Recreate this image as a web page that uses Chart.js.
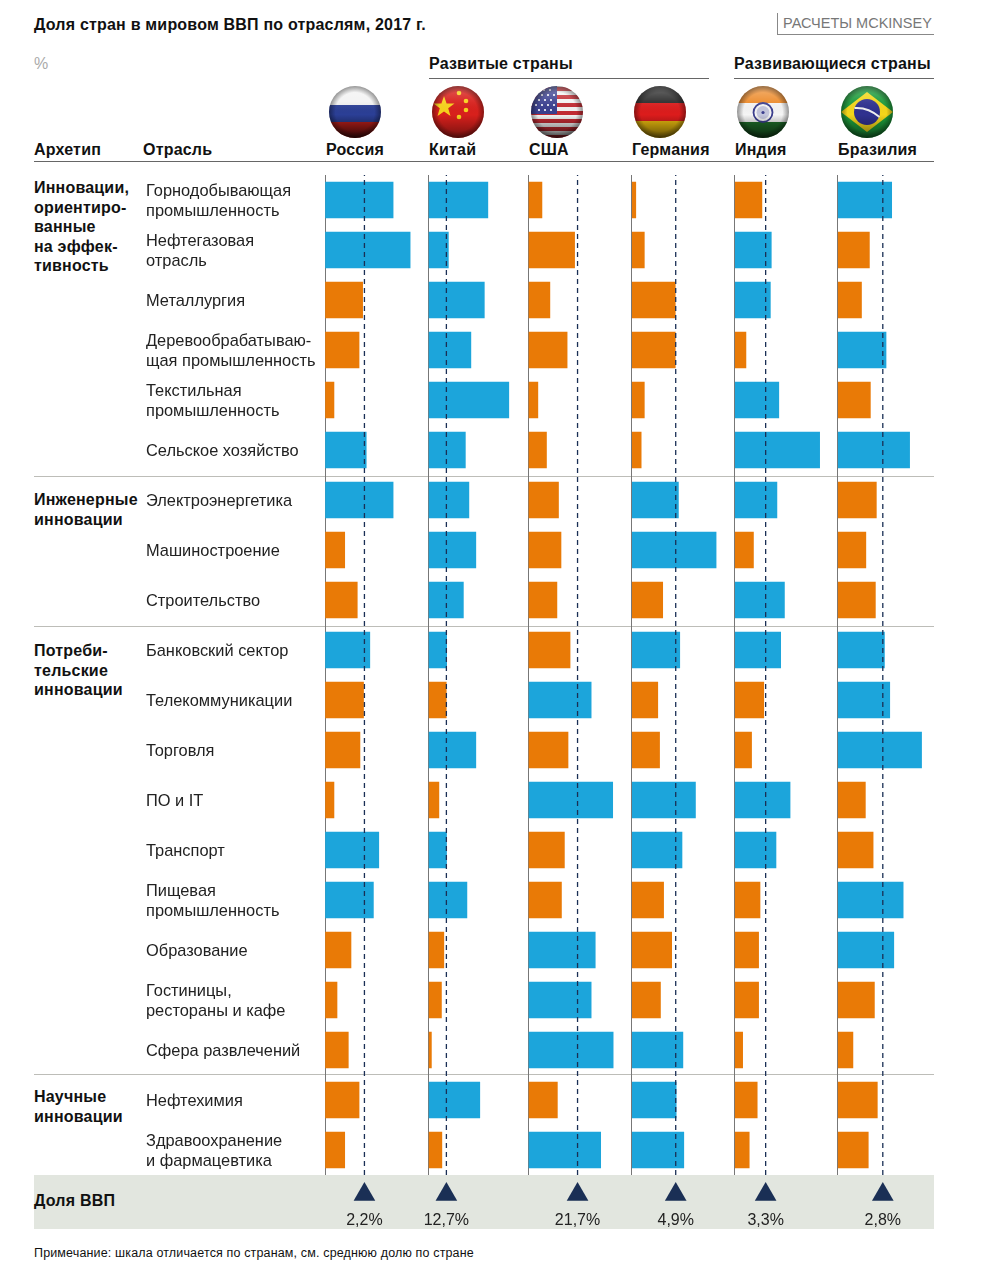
<!DOCTYPE html>
<html lang="ru">
<head>
<meta charset="utf-8">
<title>Доля стран в мировом ВВП по отраслям, 2017 г.</title>
<script src="https://cdn.jsdelivr.net/npm/chart.js@4"></script>
<style>
html,body{margin:0;padding:0;background:#fff}
#page{position:relative;width:988px;height:1271px;overflow:hidden;font-family:"Liberation Sans",Arial,sans-serif;color:#111}
#page canvas{position:absolute;left:0;top:0}
.t{position:absolute;white-space:nowrap}
.b{font-weight:bold;font-size:16px;letter-spacing:.2px;line-height:19.5px}
.rule{position:absolute;height:1px;background:#666}
.sep{position:absolute;left:34px;width:900px;height:1px;background:#bdbdb8}
.flag{position:absolute;top:85px;width:54px;height:54px}
</style>
</head>
<body>
<div id="page">
<div style="position:absolute;left:34px;top:1175px;width:900px;height:54px;background:#e2e6df"></div>
<div class="t b" style="left:34px;top:14.5px">Доля стран в мировом ВВП по отраслям, 2017 г.</div>
<div class="t" style="left:777px;top:13px;width:156px;height:21px;border-left:1px solid #888;border-bottom:1px solid #888;"></div>
<div class="t" style="left:783px;top:14px;font-size:14.5px;line-height:18px;color:#777">РАСЧЕТЫ MCKINSEY</div>
<div class="t" style="left:34px;top:54.5px;font-size:16px;line-height:18px;color:#aaa">%</div>
<div class="t b" style="left:429px;top:53.5px">Развитые страны</div>
<div class="t b" style="left:734px;top:53.5px">Развивающиеся страны</div>
<div class="rule" style="left:429px;top:78px;width:280px"></div>
<div class="rule" style="left:734px;top:78px;width:200px"></div>
<div class="rule" style="left:34px;top:161px;width:900px"></div>
<div class="t b" style="left:34px;top:139.5px">Архетип</div>
<div class="t b" style="left:143px;top:139.5px">Отрасль</div>
<div class="t b" style="left:326px;top:139.5px">Россия</div>
<div class="t b" style="left:429px;top:139.5px">Китай</div>
<div class="t b" style="left:529px;top:139.5px">США</div>
<div class="t b" style="left:632px;top:139.5px">Германия</div>
<div class="t b" style="left:735px;top:139.5px">Индия</div>
<div class="t b" style="left:838px;top:139.5px">Бразилия</div>
<div class="sep" style="top:476px"></div>
<div class="sep" style="top:626px"></div>
<div class="sep" style="top:1074px"></div>
<div class="t b" style="left:34px;top:178px">Инновации,<br>ориентиро-<br>ванные<br>на эффек-<br>тивность</div>
<div class="t b" style="left:34px;top:490px">Инженерные<br>инновации</div>
<div class="t b" style="left:34px;top:641px">Потреби-<br>тельские<br>инновации</div>
<div class="t b" style="left:34px;top:1087px">Научные<br>инновации</div>
<div class="t b" style="left:34px;top:1191px">Доля ВВП</div>
<div class="t" style="left:34px;top:1245px;font-size:12.5px;line-height:16px;letter-spacing:.15px">Примечание: шкала отличается по странам, см. среднюю долю по стране</div>

<svg width="0" height="0" style="position:absolute">
<defs>
<clipPath id="cc"><circle cx="27" cy="27" r="26"/></clipPath>
<linearGradient id="sh" x1="0" y1="0" x2="0" y2="1">
<stop offset="0" stop-color="#fff" stop-opacity=".45"/><stop offset=".3" stop-color="#fff" stop-opacity=".1"/>
<stop offset=".55" stop-color="#000" stop-opacity="0"/><stop offset="1" stop-color="#000" stop-opacity=".8"/>
</linearGradient>
<radialGradient id="vg" cx=".5" cy=".5" r=".5">
<stop offset=".72" stop-color="#000" stop-opacity="0"/><stop offset="1" stop-color="#000" stop-opacity=".45"/>
</radialGradient>
</defs>
</svg>
<svg class="flag" style="left:328px" viewBox="0 0 54 54"><g clip-path="url(#cc)"><rect width="54" height="20" fill="#f2f2f2"/><rect y="20" width="54" height="17" fill="#2b3f96"/><rect y="37" width="54" height="17" fill="#c0201c"/><rect width="54" height="54" fill="url(#sh)"/><rect width="54" height="54" fill="url(#vg)"/></g></svg>
<svg class="flag" style="left:431px" viewBox="0 0 54 54"><g clip-path="url(#cc)"><rect width="54" height="54" fill="#d8201c"/><polygon points="13,11 15.6,18.5 23.5,18.6 17.2,23.3 19.5,31 13,26.4 6.5,31 8.8,23.3 2.5,18.6 10.4,18.5" fill="#f7d21c"/><circle cx="28" cy="8" r="2.3" fill="#f7d21c"/><circle cx="35" cy="16" r="2.3" fill="#f7d21c"/><circle cx="35" cy="25" r="2.3" fill="#f7d21c"/><circle cx="28" cy="32" r="2.3" fill="#f7d21c"/><rect width="54" height="54" fill="url(#sh)" opacity=".6"/><rect width="54" height="54" fill="url(#vg)"/></g></svg>
<svg class="flag" style="left:530px" viewBox="0 0 54 54"><g clip-path="url(#cc)"><rect width="54" height="54" fill="#f3f3f3"/><rect y="2" width="54" height="4" fill="#c22b33"/><rect y="10" width="54" height="4" fill="#c22b33"/><rect y="18" width="54" height="4" fill="#c22b33"/><rect y="26" width="54" height="4" fill="#c22b33"/><rect y="34" width="54" height="4" fill="#c22b33"/><rect y="42" width="54" height="4" fill="#c22b33"/><rect y="50" width="54" height="4" fill="#c22b33"/><rect width="27" height="29" fill="#3a3f8f"/><g fill="#fff"><circle cx="6" cy="10" r="1.1"/><circle cx="12" cy="10" r="1.1"/><circle cx="18" cy="10" r="1.1"/><circle cx="24" cy="10" r="1.1"/><circle cx="9" cy="15" r="1.1"/><circle cx="15" cy="15" r="1.1"/><circle cx="21" cy="15" r="1.1"/><circle cx="6" cy="20" r="1.1"/><circle cx="12" cy="20" r="1.1"/><circle cx="18" cy="20" r="1.1"/><circle cx="24" cy="20" r="1.1"/><circle cx="9" cy="25" r="1.1"/><circle cx="15" cy="25" r="1.1"/><circle cx="21" cy="25" r="1.1"/><circle cx="14" cy="5" r="1.1"/><circle cx="20" cy="5" r="1.1"/></g><rect width="54" height="54" fill="url(#sh)" opacity=".8"/><rect width="54" height="54" fill="url(#vg)"/></g></svg>
<svg class="flag" style="left:633px" viewBox="0 0 54 54"><g clip-path="url(#cc)"><rect width="54" height="18" fill="#2a2a2a"/><rect y="18" width="54" height="18" fill="#dc1c1c"/><rect y="36" width="54" height="18" fill="#e8b90e"/><rect width="54" height="54" fill="url(#sh)" opacity=".75"/><rect width="54" height="54" fill="url(#vg)"/></g></svg>
<svg class="flag" style="left:736px" viewBox="0 0 54 54"><g clip-path="url(#cc)"><rect width="54" height="18" fill="#ec8a2a"/><rect y="18" width="54" height="19" fill="#f5f5f5"/><rect y="37" width="54" height="17" fill="#1f6d2a"/><circle cx="27" cy="27.5" r="9.5" fill="none" stroke="#3c3f8f" stroke-width="1.8"/><circle cx="27" cy="27.5" r="6.5" fill="#c4c6dd"/><circle cx="27" cy="27.5" r="1.6" fill="#3c3f8f"/><rect width="54" height="54" fill="url(#sh)" opacity=".8"/><rect width="54" height="54" fill="url(#vg)"/></g></svg>
<svg class="flag" style="left:840px" viewBox="0 0 54 54"><g clip-path="url(#cc)"><rect width="54" height="54" fill="#1c9a3a"/><polygon points="27,7 53,27 27,47 1,27" fill="#f3d61a"/><circle cx="27" cy="27" r="13" fill="#2f318f"/><path d="M14.5,23 Q28,22 39.5,32" stroke="#f1f1f1" stroke-width="2" fill="none"/><rect width="54" height="54" fill="url(#sh)" opacity=".65"/><rect width="54" height="54" fill="url(#vg)"/></g></svg>

<canvas id="chart" width="988" height="1271"></canvas>
</div>
<script>
const industries = [
  ['Горнодобывающая','промышленность'],['Нефтегазовая','отрасль'],'Металлургия',
  ['Деревообрабатываю-','щая промышленность'],['Текстильная','промышленность'],'Сельское хозяйство',
  'Электроэнергетика','Машиностроение','Строительство',
  'Банковский сектор','Телекоммуникации','Торговля','ПО и IT','Транспорт',
  ['Пищевая','промышленность'],'Образование',['Гостиницы,','рестораны и кафе'],'Сфера развлечений',
  'Нефтехимия',['Здравоохранение','и фармацевтика']
];
const countries = ['Россия','Китай','США','Германия','Индия','Бразилия'];
const gdpShare = [2.2, 12.7, 21.7, 4.9, 3.3, 2.8];
const gdpShareLabels = ['2,2%','12,7%','21,7%','4,9%','3,3%','2,8%'];
const russia  = [3.8,4.75,2.1,1.9,0.5,2.3,3.8,1.1,1.8,2.5,2.15,1.95,0.5,3.0,2.7,1.45,0.67,1.3,1.9,1.1];
const china   = [42,14.1,39.5,30,56.8,26.1,28.6,33.5,24.7,12.9,12.6,33.5,7.4,12.8,27.2,10.9,9.2,2.1,36.3,9.5];
const usa     = [6.0,20.4,9.5,17.1,4.2,8.0,13.3,14.4,12.6,18.4,27.7,17.5,37.2,15.9,14.6,29.5,27.7,37.4,12.8,31.9];
const germany = [0.45,1.4,4.85,4.85,1.4,1.05,5.2,9.4,3.45,5.35,2.9,3.1,7.1,5.6,3.55,4.45,3.2,5.7,4.95,5.8];
const india   = [2.9,3.9,3.8,1.2,4.7,9.05,4.5,2.0,5.3,4.9,3.1,1.8,5.9,4.4,2.7,2.55,2.55,0.85,2.4,1.55];
const brazil  = [3.35,1.97,1.48,3.0,2.03,4.46,2.4,1.75,2.34,2.9,3.23,5.2,1.72,2.2,4.06,3.48,2.28,0.95,2.46,1.9];
const series = [russia, china, usa, germany, india, brazil];
const axisMax = [5.77, 70.6, 45.6, 11.47, 10.96, 5.97];
const columnWeights = [103.5, 100, 103.5, 103, 103, 96.5];

const BLUE = '#1ca5db', ORANGE = '#e97a06', NAVY = '#1a2f55';
const scales = {
  y: {
    type: 'category', labels: industries, position: 'left',
    grid: {display: false}, border: {display: false},
    ticks: {crossAlign: 'far', font: {family: '"Liberation Sans"', size: 16.4, lineHeight: 1.18}, color: '#222', padding: 0, autoSkip: false, labelOffset: 1.5},
    afterFit: s => { s.width = 179; }
  },
  yShare: {type: 'linear', axis: 'y', min: 0, max: 1, offset: false, display: false}
};
const datasets = [];
countries.forEach((name, i) => {
  const id = 'x' + i;
  scales[id] = {
    type: 'linear', axis: 'x', position: 'bottom', stack: 'countries', stackWeight: columnWeights[i],
    min: 0, max: axisMax[i],
    afterBuildTicks: s => { s.ticks = [{value: 0}, {value: gdpShare[i]}]; },
    afterFit: s => { s.height = 60; },
    border: {display: false},
    grid: {drawTicks: false, lineWidth: c => c.tick && c.tick.value === 0 ? 1 : 0, color: '#777'},
    ticks: {
      padding: 35.5, autoSkip: false, maxRotation: 0, color: '#222',
      font: {family: '"Liberation Sans"', size: 16},
      callback: v => v === 0 ? '' : gdpShareLabels[i]
    }
  };
  datasets.push({
    type: 'bar', label: name, data: series[i], xAxisID: id, yAxisID: 'y',
    grouped: false, barThickness: 36, borderWidth: 0, order: 3,
    backgroundColor: c => c.raw > gdpShare[i] ? BLUE : ORANGE
  });
  datasets.push({
    type: 'scatter', label: name + ': доля ВВП', showLine: true, order: 1, clip: false,
    xAxisID: id, yAxisID: 'yShare',
    data: [{x: gdpShare[i], y: 0}, {x: gdpShare[i], y: 1}],
    borderColor: NAVY, borderWidth: 1.3, borderDash: [5, 4], pointRadius: 0
  });
  datasets.push({
    type: 'scatter', label: name + ': маркер', showLine: false, order: 1, clip: false,
    xAxisID: id, yAxisID: 'yShare',
    data: [{x: gdpShare[i], y: -0.0195}],
    pointStyle: 'triangle', pointRadius: 12.5, pointBackgroundColor: NAVY, pointBorderWidth: 0
  });
});

// The library skips points outside the chart area; the markers sit in the footer band below it.
const footerMarkers = {
  id: 'footerMarkers',
  afterDatasetsDraw(chart) {
    const area = {left: 0, top: 0, right: chart.width, bottom: chart.height};
    chart.data.datasets.forEach((d, i) => {
      if (d.pointStyle === 'triangle') {
        chart.getDatasetMeta(i).data.forEach(p => p.draw(chart.ctx, area));
      }
    });
  }
};

new Chart(document.getElementById('chart'), {
  type: 'bar',
  data: {labels: industries, datasets},
  plugins: [footerMarkers],
  options: {
    indexAxis: 'y', responsive: false, animation: false,
    layout: {padding: {left: 146, right: 54, top: 175, bottom: 36}},
    plugins: {legend: {display: false}, tooltip: {enabled: false}, title: {display: false}},
    scales
  }
});
</script>
</body>
</html>
